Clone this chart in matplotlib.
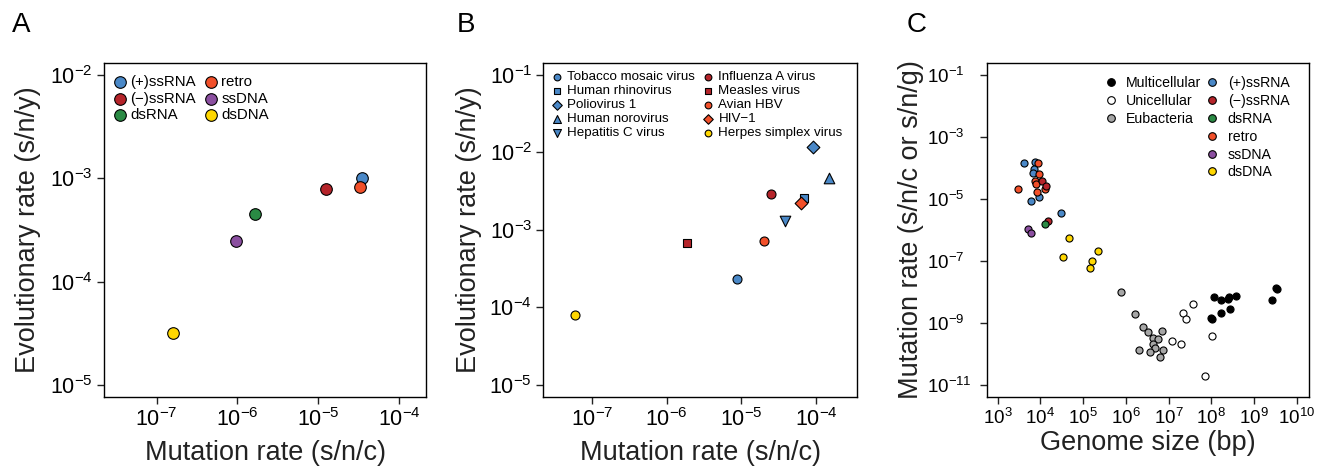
import numpy as np
import matplotlib
matplotlib.use("Agg")
import matplotlib.pyplot as plt
from matplotlib.ticker import FixedLocator, LogFormatterSciNotation, NullLocator
from matplotlib.lines import Line2D

plt.rcParams['font.family'] = ['Liberation Sans', 'DejaVu Sans']
plt.rcParams['mathtext.fontset'] = 'custom'
plt.rcParams['mathtext.rm'] = 'Liberation Sans'
plt.rcParams['mathtext.it'] = 'Liberation Sans:italic'
plt.rcParams['mathtext.bf'] = 'Liberation Sans:bold'

# colours for virus classes
c_pos = '#4a88c7'
c_neg = '#b5242a'
c_ds = '#2a8a44'
c_retro = '#f2502a'
c_ssdna = '#8b4fa0'
c_dsdna = '#ffd700'

# ---- panel A: virus classes ----
a_labels = ['(+)ssRNA', '(\u2212)ssRNA', 'dsRNA', 'retro', 'ssDNA', 'dsDNA']
a_colors = [c_pos, c_neg, c_ds, c_retro, c_ssdna, c_dsdna]
a_mut = [3.5e-5, 1.24e-5, 1.66e-6, 3.3e-5, 9.6e-7, 1.58e-7]
a_evo = [1.0e-3, 7.9e-4, 4.5e-4, 8.3e-4, 2.5e-4, 3.2e-5]

# ---- panel B: individual viruses ----
b_labels = ['Tobacco mosaic virus', 'Human rhinovirus', 'Poliovirus 1',
            'Human norovirus', 'Hepatitis C virus', 'Influenza A virus',
            'Measles virus', 'Avian HBV', 'HIV\u22121', 'Herpes simplex virus']
b_colors = [c_pos, c_pos, c_pos, c_pos, c_pos, c_neg, c_neg, c_retro, c_retro, c_dsdna]
b_markers = ['o', 's', 'D', '^', 'v', 'o', 's', 'o', 'D', 'o']
b_mut = [8.8e-6, 6.95e-5, 9.1e-5, 1.5e-4, 3.83e-5, 2.5e-5, 1.88e-6, 2.02e-5, 6.3e-5, 5.9e-8]
b_evo = [2.3e-4, 2.56e-3, 1.15e-2, 4.6e-3, 1.28e-3, 2.86e-3, 6.7e-4, 7.2e-4, 2.23e-3, 7.9e-5]

# ---- panel C: genome size vs mutation rate ----
multi_size = [1.16e8, 1.66e8, 2.5e8, 2.55e8, 3.85e8, 2.69e8, 1.66e8, 9.8e7, 1.04e8, 2.64e9, 3.28e9, 3.46e9]
multi_rate = [6.8e-9, 5.2e-9, 5.9e-9, 6.8e-9, 7.0e-9, 2.8e-9, 1.97e-9, 1.36e-9, 1.26e-9, 5.2e-9, 1.33e-8, 1.18e-8]
uni_size = [3.72e7, 2.21e7, 2.55e7, 1.22e7, 1.95e7, 1.07e8, 6.98e7]
uni_rate = [4.06e-9, 2.07e-9, 1.33e-9, 2.58e-10, 2.11e-10, 3.74e-10, 1.9e-11]
eub_size = [7.64e5, 1.63e6, 2.5e6, 3.22e6, 4.22e6, 5.52e6, 6.86e6, 4.22e6, 4.79e6, 2.06e6, 3.78e6, 7.5e6, 6.27e6]
eub_rate = [9.4e-9, 1.88e-9, 7.1e-10, 4.9e-10, 3.2e-10, 2.85e-10, 5.2e-10, 2.07e-10, 1.5e-10, 1.35e-10, 1.14e-10, 1.32e-10, 7.8e-11]
pos_size = [4140, 7500, 7110, 6730, 9310, 6150, 30500]
pos_rate = [1.39e-4, 1.50e-4, 8.9e-5, 6.6e-5, 1.17e-5, 8.7e-6, 3.5e-6]
neg_size = [10900, 13300, 15400]
neg_rate = [3.6e-5, 2.5e-5, 1.9e-6]
ds_size = [12900]
ds_rate = [1.56e-6]
retro_size = [8970, 9480, 7640, 8050, 8200, 12900, 2940]
retro_rate = [1.39e-4, 6.2e-5, 3.6e-5, 2.9e-5, 1.6e-5, 2.1e-5, 2.0e-5]
ssdna_size = [5240, 6150]
ssdna_rate = [1.08e-6, 7.6e-7]
dsdna_size = [47000, 34600, 228600, 165600, 148600]
dsdna_rate = [5.4e-7, 1.28e-7, 2.0e-7, 9.5e-8, 5.9e-8]

fig = plt.figure(figsize=(13.28, 4.72), dpi=100)
axA = fig.add_axes([0.0783, 0.159, 0.2425, 0.7076])
axB = fig.add_axes([0.4091, 0.159, 0.2362, 0.7076])
axC = fig.add_axes([0.7430, 0.159, 0.2427, 0.7076])


def style(ax, xt, yt, xlim, ylim, tsize):
    ax.set_xscale('log')
    ax.set_yscale('log')
    ax.set_xlim(xlim)
    ax.set_ylim(ylim)
    ax.xaxis.set_major_locator(FixedLocator(xt))
    ax.yaxis.set_major_locator(FixedLocator(yt))
    ax.xaxis.set_minor_locator(NullLocator())
    ax.yaxis.set_minor_locator(NullLocator())
    ax.xaxis.set_major_formatter(LogFormatterSciNotation())
    ax.yaxis.set_major_formatter(LogFormatterSciNotation())
    ax.tick_params(direction='out', length=5, width=1, labelsize=tsize, color='#222222',
                   pad=3)
    for s in ax.spines.values():
        s.set_linewidth(1.0)


# A
for lab, col, x, y in zip(a_labels, a_colors, a_mut, a_evo):
    axA.scatter([x], [y], s=70, c=col, edgecolors='black', linewidths=0.8, label=lab, zorder=3)
style(axA, 10.0 ** np.arange(-7, -3), 10.0 ** np.arange(-5, -1),
      (10 ** -7.653, 10 ** -3.665), (10 ** -5.116, 10 ** -1.884), 15.5)
axA.set_xlabel('Mutation rate (s/n/c)', fontsize=19.5, color='#222222')
axA.set_ylabel('Evolutionary rate (s/n/y)', fontsize=19.5, color='#222222')
axA.legend(loc='upper left', bbox_to_anchor=(0, 0.98), ncol=2, frameon=False,
           fontsize=10.8, handletextpad=0.0, columnspacing=0.3, labelspacing=0.18,
           borderaxespad=0.15, markerscale=1.0, borderpad=0.2, handlelength=1.4)

# B
b_sizes = {'o': 42, 's': 38, 'D': 42, '^': 58, 'v': 58}
for lab, col, m, x, y in zip(b_labels, b_colors, b_markers, b_mut, b_evo):
    axB.scatter([x], [y], s=b_sizes[m], c=col, marker=m, edgecolors='black', linewidths=0.8,
                label=lab, zorder=3)
style(axB, 10.0 ** np.arange(-7, -3), 10.0 ** np.arange(-5, 0),
      (10 ** -7.657, 10 ** -3.45), (10 ** -5.16, 10 ** -0.848), 15.5)
axB.set_xlabel('Mutation rate (s/n/c)', fontsize=19.5, color='#222222')
axB.set_ylabel('Evolutionary rate (s/n/y)', fontsize=19.5, color='#222222')
axB.legend(loc='upper left', bbox_to_anchor=(0, 0.99), ncol=2, frameon=False,
           fontsize=9.6, handletextpad=0.15, columnspacing=0.3, labelspacing=0.12,
           borderaxespad=0.15, markerscale=0.75, borderpad=0.2, handlelength=1.3)

# C
groups_cell = [('Multicellular', 'black', multi_size, multi_rate),
               ('Unicellular', 'white', uni_size, uni_rate),
               ('Eubacteria', '#a6a6a6', eub_size, eub_rate)]
groups_virus = [('(+)ssRNA', c_pos, pos_size, pos_rate),
                ('(\u2212)ssRNA', c_neg, neg_size, neg_rate),
                ('dsRNA', c_ds, ds_size, ds_rate),
                ('retro', c_retro, retro_size, retro_rate),
                ('ssDNA', c_ssdna, ssdna_size, ssdna_rate),
                ('dsDNA', c_dsdna, dsdna_size, dsdna_rate)]
for lab, col, xs, ys in groups_cell:
    axC.scatter(xs, ys, s=26, c=col, edgecolors='black', linewidths=0.8, zorder=3)
for lab, col, xs, ys in [groups_virus[0], groups_virus[3], groups_virus[1],
                         groups_virus[2], groups_virus[4], groups_virus[5]]:
    axC.scatter(xs, ys, s=26, c=col, edgecolors='black', linewidths=0.8, zorder=3)
style(axC, 10.0 ** np.arange(3, 11), 10.0 ** np.arange(-11, 0, 2),
      (10 ** 2.742, 10 ** 10.29), (10 ** -11.40, 10 ** -0.62), 13.5)
axC.tick_params(axis='y', pad=38)
for t in axC.get_yticklabels():
    t.set_horizontalalignment('left')
axC.set_xlabel('Genome size (bp)', fontsize=19.5, color='#222222')
axC.set_ylabel('Mutation rate (s/n/c or s/n/g)', fontsize=19.5, color='#222222')


def handles(groups):
    return [Line2D([], [], marker='o', ls='', markersize=5.5, markerfacecolor=col,
                   markeredgecolor='black', markeredgewidth=0.8, label=lab)
            for lab, col, _, _ in groups]


leg1 = axC.legend(handles=handles(groups_cell), loc='upper left',
                  bbox_to_anchor=(0.31, 0.99), frameon=False, fontsize=10.2,
                  handletextpad=0.1, labelspacing=0.27, borderpad=0.2)
axC.add_artist(leg1)
axC.legend(handles=handles(groups_virus), loc='upper left',
           bbox_to_anchor=(0.625, 0.99), frameon=False, fontsize=10.2,
           handletextpad=0.1, labelspacing=0.27, borderpad=0.2)

for ax in (axA, axB, axC):
    ax.yaxis.set_label_coords(-0.195, 0.5)
axA.xaxis.set_label_coords(0.5, -0.13)
axB.xaxis.set_label_coords(0.5, -0.13)
axC.xaxis.set_label_coords(0.5, -0.10)

fig.text(0.009, 0.975, 'A', fontsize=20, va='top')
fig.text(0.344, 0.975, 'B', fontsize=20, va='top')
fig.text(0.683, 0.975, 'C', fontsize=20, va='top')

fig.savefig('out.png', dpi=100)
